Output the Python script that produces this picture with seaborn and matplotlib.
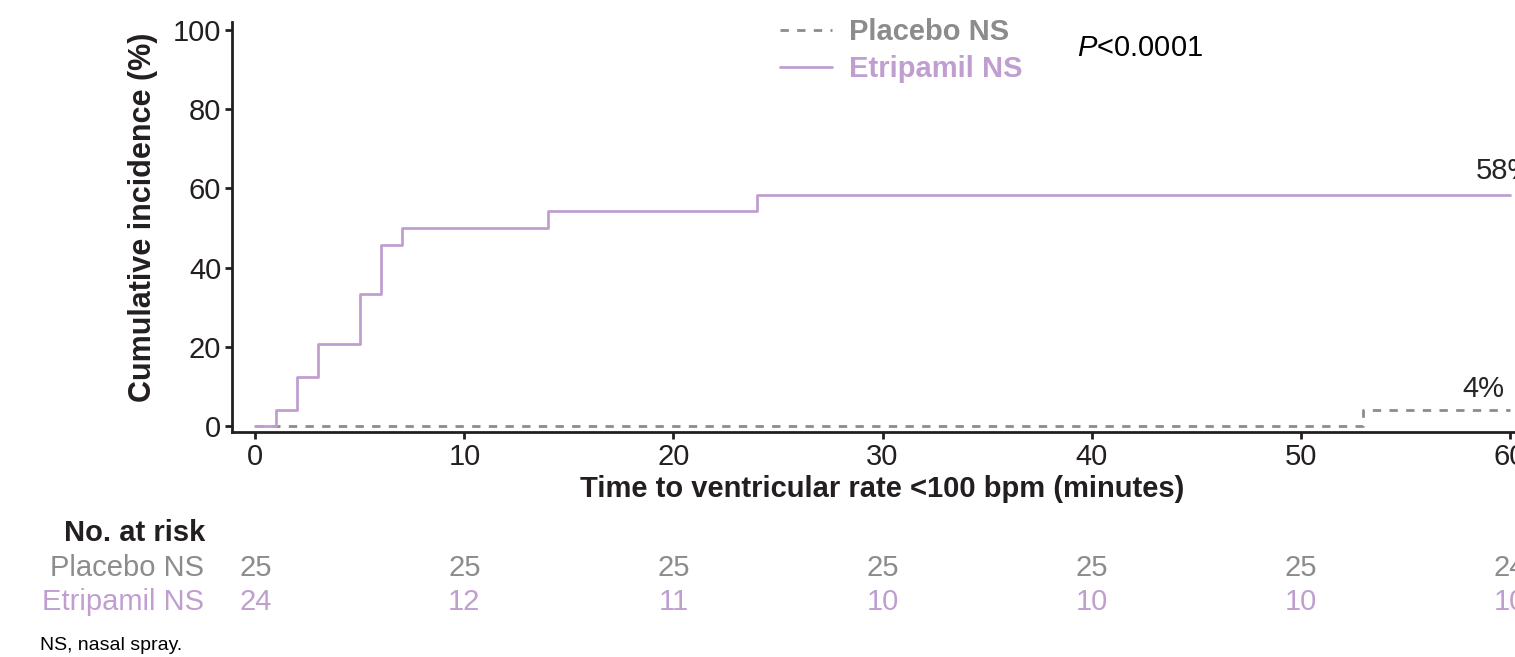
import pandas as pd
import numpy as np
import matplotlib
matplotlib.use("Agg")
import matplotlib.pyplot as plt
import matplotlib.transforms as mtransforms
import seaborn as sns

# step data (minutes, cumulative %)
placebo_time = [0, 53, 60]
placebo_inc = [0, 4, 4]
etri_time = [0, 1, 2, 3, 5, 6, 7, 14, 24, 60]
etri_inc = [0, 4.2, 12.5, 20.8, 33.3, 45.8, 50.0, 54.2, 58.3, 58.3]

risk_times = [0, 10, 20, 30, 40, 50, 60]
placebo_risk = [25, 25, 25, 25, 25, 25, 24]
etri_risk = [24, 12, 11, 10, 10, 10, 10]

groups = ['Placebo NS', 'Etripamil NS']
gray = '#8c8c8c'
purple = '#c09fd0'
dark = '#231f20'
fs = 21

df = pd.concat([
    pd.DataFrame({'time': placebo_time, 'inc': placebo_inc, 'group': 'Placebo NS'}),
    pd.DataFrame({'time': etri_time, 'inc': etri_inc, 'group': 'Etripamil NS'}),
])

sns.set_style('ticks')
plt.rcParams['font.family'] = ['Liberation Sans', 'DejaVu Sans']
plt.rcParams['mathtext.fontset'] = 'custom'
plt.rcParams['mathtext.rm'] = 'Liberation Sans'
plt.rcParams['mathtext.it'] = 'Liberation Sans:italic'

fig = plt.figure(figsize=(15.15, 6.57), dpi=100)
ax = fig.add_axes([232.3 / 1515, 1 - 432.3 / 657, (1515 - 232.3) / 1515, (432.3 - 22) / 657])

sns.lineplot(data=df, x='time', y='inc', hue='group', style='group',
             hue_order=groups, style_order=groups,
             palette={'Placebo NS': gray, 'Etripamil NS': purple},
             dashes={'Placebo NS': (3, 3), 'Etripamil NS': ''},
             estimator=None, drawstyle='steps-post', linewidth=2.0, ax=ax)

ax.set_xlim(-1.1, 60.25)
ax.set_ylim(-1.5, 102)
ax.set_xticks(range(0, 61, 10))
ax.set_yticks(range(0, 101, 20))
ax.tick_params(labelsize=fs, width=2.0, length=5, pad=3, color=dark, labelcolor=dark)
for s in ['left', 'bottom']:
    ax.spines[s].set_linewidth(2.0)
    ax.spines[s].set_color(dark)
sns.despine(ax=ax)

ax.set_xlabel('Time to ventricular rate <100 bpm (minutes)', fontsize=fs, fontweight='bold', color=dark)
ax.set_ylabel('Cumulative incidence (%)', fontsize=fs + 1, fontweight='bold', color=dark)
ax.xaxis.set_label_coords(0.507, -0.104)
ax.yaxis.set_label_coords(-0.058, 0.5235)

# legend
leg = ax.legend(loc='upper left', bbox_to_anchor=(780 / 1515, 1 - 18 / 657),
                bbox_transform=fig.transFigure, frameon=False, borderpad=0,
                borderaxespad=0, handlelength=1.78, handletextpad=0.58,
                labelspacing=0.32, prop={'size': fs, 'weight': 'bold'},
                labelcolor='linecolor')

ax.text(1077 / 1515, 1 - 48 / 657, r'$P$<0.0001', transform=fig.transFigure,
        fontsize=fs, va='center', ha='left', color='black')

# end labels
ax.text(58.36, 64.4, '58%', fontsize=fs, va='center', ha='left', clip_on=False)
ax.text(57.75, 9.4, '4%', fontsize=fs, va='center', ha='left', clip_on=False)

# number at risk table
trans = mtransforms.blended_transform_factory(ax.transData, fig.transFigure)
fig.text(205 / 1515, 1 - 533 / 657, 'No. at risk', fontsize=fs, fontweight='bold',
         ha='right', va='center', color=dark)
fig.text(204 / 1515, 1 - 568 / 657, 'Placebo NS', fontsize=fs, ha='right', va='center', color=gray)
fig.text(204 / 1515, 1 - 602 / 657, 'Etripamil NS', fontsize=fs, ha='right', va='center', color=purple)
for t, p, e in zip(risk_times, placebo_risk, etri_risk):
    ax.text(t, 1 - 568 / 657, str(p), transform=trans, fontsize=fs, ha='center', va='center', color=gray, clip_on=False)
    ax.text(t, 1 - 602 / 657, str(e), transform=trans, fontsize=fs, ha='center', va='center', color=purple, clip_on=False)

fig.text(40 / 1515, 1 - 645 / 657, 'NS, nasal spray.', fontsize=14, ha='left', va='center', color='black')

fig.savefig('out.png', dpi=100)
